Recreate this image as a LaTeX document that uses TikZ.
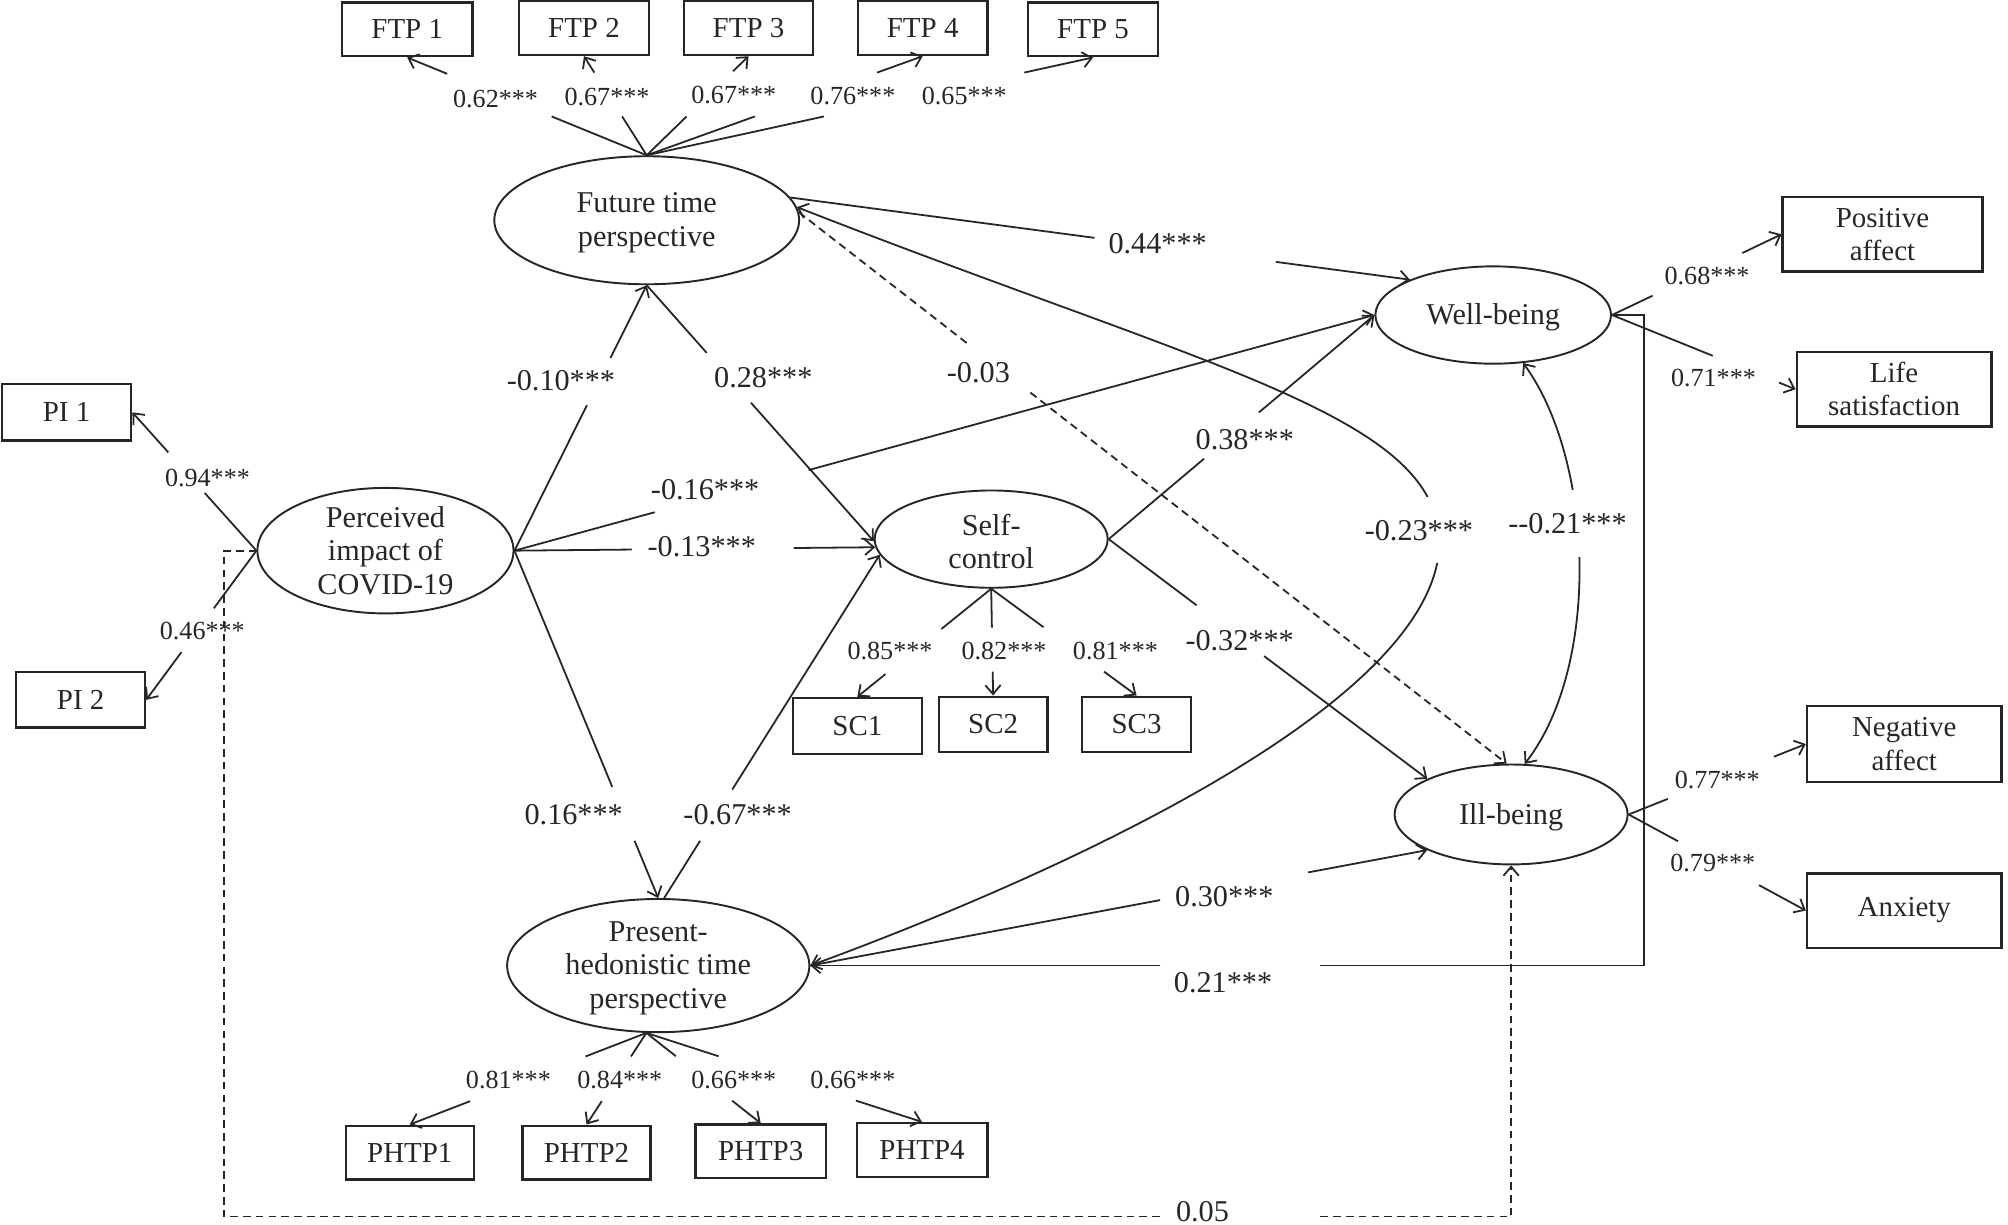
\documentclass[tikz,border=0pt]{standalone}
\usepackage{fontspec}
\setmainfont{Liberation Serif}
\usetikzlibrary{calc,arrows.meta,shapes.geometric}
\newcommand\gapline[5][]{%
  \draw[#1] (#2) -- ($(#2)!#4!(#3)$);
  \draw[#1,tip] ($(#2)!#5!(#3)$) -- (#3);}
\begin{document}
\begin{tikzpicture}[x=0.5pt,y=-0.5pt,line width=0.7pt,draw=black!85,
  lat/.style={ellipse,draw,inner sep=0pt,line width=0.75pt},
  ltxt/.style={align=center,font=\fontsize{11.8}{13}\selectfont,inner sep=0pt,text=black!85},
  obs/.style={rectangle,draw,line width=0.9pt,inner sep=0pt,align=center,font=\fontsize{11.3}{13}\selectfont,text=black!85},
  big/.style={font=\fontsize{11.8}{13}\selectfont,inner sep=1pt,text=black!85},
  sml/.style={font=\fontsize{10.2}{12}\selectfont,inner sep=1pt,text=black!85},
  tip/.style={-{Straight Barb[length=3.5pt,width=6pt]}},
  dtip/.style={{Straight Barb[length=3.5pt,width=6pt]}-{Straight Barb[length=3.5pt,width=6pt]}},
  dsh/.style={dash pattern=on 3pt off 2pt}]
\useasboundingbox (0,0) rectangle (1568,956);

% latent variables
\node[lat,minimum width=119pt,minimum height=50pt] (ftp) at (505,172) {};
\node[ltxt] (ftpt) at (505,174) {Future time\\perspective};
\node[lat,minimum width=100pt,minimum height=49pt] (pi) at (301,430) {};
\node[ltxt] (pit) at (301,430) {Perceived\\impact of\\COVID-19};
\node[lat,minimum width=91pt,minimum height=38pt] (sc) at (774,421) {};
\node[ltxt] (sct) at (774,423) {Self-\\control};
\node[lat,minimum width=92pt,minimum height=38pt] (wb) at (1166,246) {};
\node[ltxt] (wbt) at (1166,248) {Well-being};
\node[lat,minimum width=91pt,minimum height=39pt] (ib) at (1180,636) {};
\node[ltxt] (ibt) at (1180,638) {Ill-being};
\node[lat,minimum width=118pt,minimum height=52pt] (phtp) at (514,754) {};
\node[ltxt] (phtpt) at (514,756) {Present-\\hedonistic time\\perspective};

% observed variables
\node[obs,minimum width=51pt,minimum height=21pt] (ftp1) at (318,23) {FTP 1};
\node[obs,minimum width=51pt,minimum height=21pt] (ftp2) at (456,22) {FTP 2};
\node[obs,minimum width=50.5pt,minimum height=21pt] (ftp3) at (584.5,22) {FTP 3};
\node[obs,minimum width=50.5pt,minimum height=21pt] (ftp4) at (720.5,22) {FTP 4};
\node[obs,minimum width=50.5pt,minimum height=21pt] (ftp5) at (853.5,23) {FTP 5};
\node[obs,minimum width=50.5pt,minimum height=22pt] (pi1) at (52,322) {PI 1};
\node[obs,minimum width=50.25pt,minimum height=21.5pt] (pi2) at (63,546.5) {PI 2};
\node[obs,minimum width=50.5pt,minimum height=22pt] (sc1) at (669.5,567) {SC1};
\node[obs,minimum width=42.5pt,minimum height=21.5pt] (sc2) at (775.5,565.5) {SC2};
\node[obs,minimum width=42.5pt,minimum height=21.5pt] (sc3) at (887.5,565.5) {SC3};
\node[obs,minimum width=50pt,minimum height=21pt] (phtp1) at (320,900) {PHTP1};
\node[obs,minimum width=50pt,minimum height=21pt] (phtp2) at (458,900) {PHTP2};
\node[obs,minimum width=51pt,minimum height=21pt] (phtp3) at (594,899) {PHTP3};
\node[obs,minimum width=51pt,minimum height=21pt] (phtp4) at (720,898) {PHTP4};
\node[obs,minimum width=78pt,minimum height=29pt] (pa) at (1470,183) {Positive\\affect};
\node[obs,minimum width=76pt,minimum height=29pt] (ls) at (1479,304) {Life\\satisfaction};
\node[obs,minimum width=76pt,minimum height=29.5pt] (na) at (1487,581) {Negative\\affect};
\node[obs,minimum width=76pt,minimum height=29pt] (anx) at (1487,711) {Anxiety};

% loadings: future time perspective
\gapline{ftp.north}{ftp1.south}{0.397}{0.833}
\gapline{ftp.north}{ftp2.south}{0.392}{0.835}
\gapline{ftp.north}{ftp3.south}{0.392}{0.848}
\gapline{ftp.north}{ftp4.south}{0.392}{0.835}
\gapline{ftp.north}{ftp5.south}{0.397}{0.846}
\node[sml] (lf1) at (387,77) {0.62***};
\node[sml] (lf2) at (474,76) {0.67***};
\node[sml] (lf3) at (573,74) {0.67***};
\node[sml] (lf4) at (666,75) {0.76***};
\node[sml] (lf5) at (753,75) {0.65***};

% loadings: perceived impact
\gapline{pi.west}{pi1.east}{0.417}{0.711}
\gapline{pi.west}{pi2.east}{0.386}{0.68}
\node[sml] (lp1) at (162,373) {0.94***};
\node[sml] (lp2) at (158,493) {0.46***};

% loadings: self-control
\gapline{sc.south}{sc1.north}{0.372}{0.79}
\gapline{sc.south}{sc2.north}{0.365}{0.776}
\gapline{sc.south}{sc3.north}{0.36}{0.776}
\node[sml] (ls1) at (695,508) {0.85***};
\node[sml] (ls2) at (784,508) {0.82***};
\node[sml] (ls3) at (871,508) {0.81***};

% loadings: present-hedonistic
\gapline{phtp.260}{phtp1.north}{0.257}{0.745}
\gapline{phtp.260}{phtp2.north}{0.257}{0.745}
\gapline{phtp.260}{phtp3.north}{0.258}{0.75}
\gapline{phtp.260}{phtp4.north}{0.262}{0.76}
\node[sml] (lh1) at (397,843) {0.81***};
\node[sml] (lh2) at (484,843) {0.84***};
\node[sml] (lh3) at (573,843) {0.66***};
\node[sml] (lh4) at (666,843) {0.66***};

% loadings: well-being, ill-being
\gapline{wb.east}{pa.west}{0.239}{0.769}
\gapline{wb.east}{ls.west}{0.549}{0.91}
\gapline{ib.east}{na.west}{0.221}{0.82}
\gapline{ib.east}{anx.west}{0.279}{0.736}
\node[sml] (lw1) at (1333,215.5) {0.68***};
\node[sml] (lw2) at (1338,295) {0.71***};
\node[sml] (li1) at (1341,609) {0.77***};
\node[sml] (li2) at (1337.5,674) {0.79***};

% structural paths
\gapline{pi.east}{ftp.south}{0.548}{0.726}
\node[big] (p1) at (438,297) {-0.10***};
\gapline{ftp.south}{sc.181}{0.264}{0.459}
\node[big] (p2) at (596,295) {0.28***};
\gapline[dsh]{ftp.3}{ib.95}{0.239}{0.327}
\node[big] (p3) at (764,291) {-0.03};
\gapline{ftp.9}{wb.157}{0.491}{0.784}
\node[big] (p4) at (904,190) {0.44***};
\gapline{pi.east}{wb.west}{0.163}{0.342}
\node[big] (p5) at (550.6,382.6) {-0.16***};
\gapline{pi.east}{sc.184}{0.325}{0.774}
\node[big] (p6) at (548,427) {-0.13***};
\gapline{sc.east}{wb.west}{0.359}{0.565}
\node[big] (p7) at (972,343) {0.38***};
\gapline{sc.east}{ib.157}{0.276}{0.488}
\node[big] (p8) at (968,500) {-0.32***};
\gapline{pi.east}{phtp.north}{0.68}{0.835}
\node[big] (p9) at (448,636) {0.16***};
\gapline{phtp.85}{sc.188}{0.167}{0.316}
\node[big] (p10) at (576,636) {-0.67***};
\gapline{phtp.east}{ib.203}{0.567}{0.807}
\node[big] (p11) at (956,700) {0.30***};

% correlation FTP <-> PHTP
\coordinate (m23) at (1124,425);
\draw[dtip] (phtp.east) .. controls (780,700) and (1120,560) .. (m23)
  .. controls (1124,325) and (950,290) .. (ftp.5);
\node[big,fill=white,inner ysep=9pt,inner xsep=0pt] (p12) at (1108,414) {-0.23***};

% correlation WB <-> IB
\draw[dtip] (wb.-58) .. controls (1245,360) and (1250,520) .. (ib.75);
\node[big,fill=white,inner ysep=9pt,inner xsep=0pt] (p13) at (1224,409) {-{}-0.21***};

% WB -> PHTP
\coordinate (r21) at (1284,754);
\coordinate (g21a) at (1031,754);
\coordinate (g21b) at (906,754);
\draw (wb.east) -| (r21) -- (g21a);
\draw[tip] (g21b) -- (phtp.east);
\node[big] (p14) at (955,767) {0.21***};

% PI -> IB (dashed)
\coordinate (dl) at (175,950);
\coordinate (g05a) at (907,950);
\coordinate (g05b) at (1031,950);
\draw[dsh] (pi.west) -| (dl) -- (g05a);
\draw[dsh,tip] (g05b) -| (ib.south);
\node[big] (p15) at (939,946) {0.05};
\end{tikzpicture}
\end{document}
